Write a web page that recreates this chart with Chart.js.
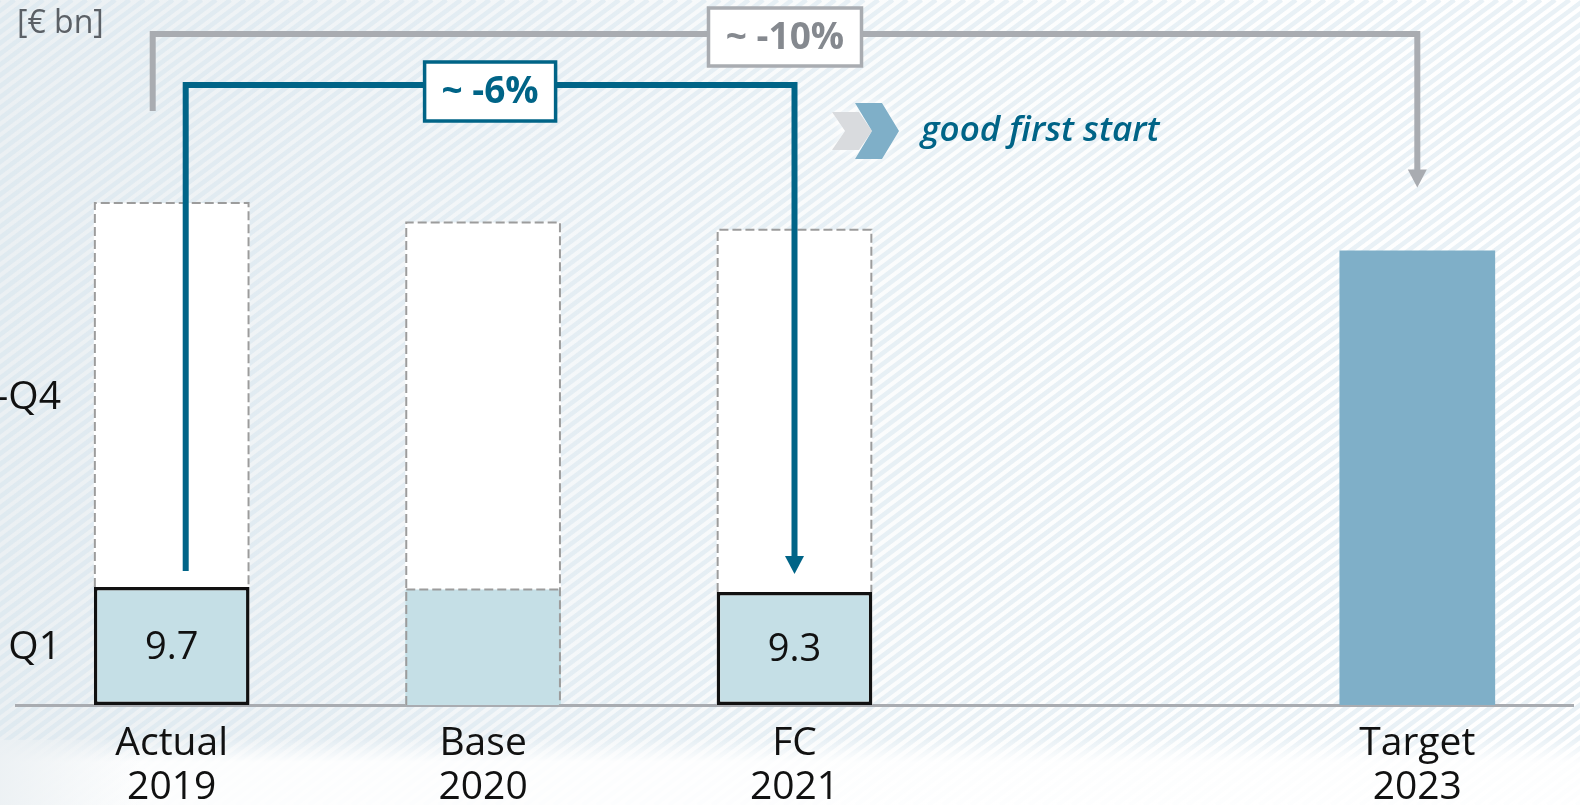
<!DOCTYPE html>
<html><head><meta charset="utf-8">
<script src="https://cdn.jsdelivr.net/npm/chart.js@4.4.1/dist/chart.umd.min.js"></script>
<style>html,body{margin:0;padding:0;background:#fff;overflow:hidden}canvas{display:block}</style>
</head><body>
<canvas id="c" width="1580" height="805"></canvas>
<script>
// ---- data ----
const categoriesTop = ["Actual", "Base", "FC", "", "Target"];
const categoriesBottom = ["2019", "2020", "2021", "", "2023"];
const q1Values = [9.7, 9.5, 9.3, null, null];
const fullYearValues = [41.3, 39.7, 39.1, null, null];
const targetValues = [null, null, null, null, 37.4];
const valueLabels = ["9.7", "", "9.3", "", ""];
const q1Outlined = [true, false, true, false, false];
const yAxisLabels = ["Q1", "Q1-Q4"];
const unitLabel = "[€ bn]";
const changeLabels = ["~ -6%", "~ -10%"];
const noteText = "good first start";

const TEAL = '#006487';
const GREY = '#a9acb1';
const FONT = '"Open Sans", "Noto Sans", sans-serif';

const labels = categoriesTop.map((t, i) => t ? [t, categoriesBottom[i]] : "");

const bgPlugin = {
  id: 'bg',
  beforeDraw(chart) {
    const { ctx, width: W, height: H } = chart;
    ctx.save();
    const g = ctx.createLinearGradient(0, 0, W, 0);
    g.addColorStop(0, '#ebf0f3');
    g.addColorStop(0.35, '#f4f7f9');
    g.addColorStop(0.6, '#fcfdfd');
    g.addColorStop(1, '#ffffff');
    ctx.fillStyle = g;
    ctx.fillRect(0, 0, W, H);
    // diagonal stripes
    ctx.beginPath();
    const k = 0.75;
    for (let c = -H / k; c < W + 20; c += 14.4) {
      ctx.moveTo(c, H);
      ctx.lineTo(c + H / k, 0);
    }
    ctx.strokeStyle = 'rgba(212,227,237,0.5)';
    ctx.lineWidth = 4.5;
    ctx.stroke();
    // white band at the bottom
    const gv = ctx.createLinearGradient(0, 738, 0, 762);
    gv.addColorStop(0, 'rgba(255,255,255,0)');
    gv.addColorStop(1, 'rgba(255,255,255,0.9)');
    ctx.fillStyle = gv;
    ctx.fillRect(0, 738, W, H - 738);
    // keep left edge slightly grey
    const gl = ctx.createLinearGradient(0, 0, 140, 0);
    gl.addColorStop(0, 'rgba(235,240,243,0.9)');
    gl.addColorStop(1, 'rgba(235,240,243,0)');
    ctx.fillStyle = gl;
    ctx.fillRect(0, 740, 140, H - 740);
    ctx.restore();
  }
};

const overlayPlugin = {
  id: 'overlay',
  afterDatasetsDraw(chart) {
    const { ctx } = chart;
    const mQ = chart.getDatasetMeta(0), mF = chart.getDatasetMeta(1);
    ctx.save();
    // dashed outlines of the full-year bars
    ctx.setLineDash([9, 4]);
    ctx.strokeStyle = '#9c9c9c';
    ctx.lineWidth = 2;
    mF.data.forEach((el, i) => {
      if (fullYearValues[i] == null) return;
      const p = el.getProps(['x', 'y', 'base', 'width'], true);
      const l = p.x - p.width / 2 + 1, r = p.x + p.width / 2 - 1;
      const q = mQ.data[i].getProps(['y'], true).y;
      ctx.beginPath();
      if (q1Outlined[i]) {
        ctx.moveTo(l, q); ctx.lineTo(l, p.y); ctx.lineTo(r, p.y); ctx.lineTo(r, q);
      } else {
        ctx.moveTo(l, p.base); ctx.lineTo(l, p.y); ctx.lineTo(r, p.y); ctx.lineTo(r, p.base);
        ctx.moveTo(l, q); ctx.lineTo(r, q);
      }
      ctx.stroke();
    });
    ctx.setLineDash([]);
    // value labels inside Q1 bars
    ctx.fillStyle = '#111';
    ctx.font = '38px ' + FONT;
    ctx.textAlign = 'center';
    ctx.textBaseline = 'middle';
    mQ.data.forEach((el, i) => {
      if (!valueLabels[i]) return;
      const p = el.getProps(['x', 'y', 'base'], true);
      ctx.fillText(valueLabels[i], p.x, (p.y + p.base) / 2 + 2);
    });
    // row labels (left)
    const a = mQ.data[0].getProps(['y', 'base'], true);
    const f = mF.data[0].getProps(['y'], true);
    ctx.textAlign = 'right';
    ctx.font = '39px ' + FONT;
    ctx.fillText(yAxisLabels[0], 61, (a.y + a.base) / 2 + 2);
    ctx.fillText(yAxisLabels[1], 61, (f.y + a.y) / 2 + 3);
    ctx.restore();
  },
  afterDraw(chart) {
    const { ctx } = chart;
    const xs = chart.scales.x, ys = chart.scales.y;
    const xA = xs.getPixelForValue(0), xF = xs.getPixelForValue(2), xT = xs.getPixelForValue(4);
    const yQA = ys.getPixelForValue(q1Values[0]);
    const yQF = ys.getPixelForValue(q1Values[2]);
    const yT = ys.getPixelForValue(targetValues[4]);
    ctx.save();
    ctx.lineJoin = 'miter';
    ctx.lineCap = 'butt';

    function bracket(color, x1, yStart, yTop, x2, tip) {
      ctx.strokeStyle = color;
      ctx.lineWidth = 6;
      ctx.beginPath();
      ctx.moveTo(x1, yStart);
      ctx.lineTo(x1, yTop);
      ctx.lineTo(x2, yTop);
      ctx.lineTo(x2, tip - 14);
      ctx.stroke();
      ctx.fillStyle = color;
      ctx.beginPath();
      ctx.moveTo(x2 - 9.5, tip - 18);
      ctx.lineTo(x2 + 9.5, tip - 18);
      ctx.lineTo(x2, tip);
      ctx.closePath();
      ctx.fill();
    }
    function box(color, textColor, cx, cy, w, h, text) {
      ctx.fillStyle = '#fff';
      ctx.fillRect(cx - w / 2, cy - h / 2, w, h);
      ctx.strokeStyle = color;
      ctx.lineWidth = 3.5;
      ctx.strokeRect(cx - w / 2, cy - h / 2, w, h);
      ctx.fillStyle = textColor;
      ctx.font = 'bold 37px ' + FONT;
      ctx.textAlign = 'center';
      ctx.textBaseline = 'middle';
      ctx.fillText(text, cx, cy + 1);
    }
    // grey bracket (Actual -> Target)
    const gx1 = xA - 19, gy = 34;
    bracket(GREY, gx1, 111, gy, xT, yT - 63);
    // teal bracket (Actual -> FC)
    const tx1 = xA + 14, ty = 85;
    bracket(TEAL, tx1, yQA - 16, ty, xF, yQF - 18);
    box(GREY, '#85898f', (gx1 + xT) / 2, 37, 153, 58, changeLabels[1]);
    box(TEAL, TEAL, (tx1 + xF) / 2, 91.5, 131, 59, changeLabels[0]);

    // chevrons
    function chevron(x0, y0, x1, y1, d, color) {
      const ym = (y0 + y1) / 2;
      ctx.beginPath();
      ctx.moveTo(x0, y0);
      ctx.lineTo(x1 - d, y0);
      ctx.lineTo(x1, ym);
      ctx.lineTo(x1 - d, y1);
      ctx.lineTo(x0, y1);
      ctx.lineTo(x0 + d, ym);
      ctx.closePath();
      ctx.fillStyle = color;
      ctx.fill();
    }
    ctx.save();
    ctx.shadowColor = 'rgba(255,255,255,0.95)';
    ctx.shadowBlur = 10;
    chevron(832, 112, 872, 150, 13, '#fff');
    chevron(855, 103, 899, 159, 17, '#fff');
    ctx.restore();
    chevron(832, 112, 872, 150, 13, '#d9dbde');
    chevron(855, 103, 899, 159, 17, '#7fafc8');
    ctx.fillStyle = TEAL;
    ctx.font = 'italic 600 35px ' + FONT;
    ctx.textAlign = 'left';
    ctx.textBaseline = 'alphabetic';
    ctx.fillText(noteText, 921, 141);

    // unit label
    ctx.fillStyle = '#5b6066';
    ctx.font = '32px ' + FONT;
    ctx.textBaseline = 'middle';
    ctx.fillText(unitLabel, 17, 24);
    ctx.restore();
  }
};

new Chart(document.getElementById('c'), {
  type: 'bar',
  data: {
    labels: labels,
    datasets: [
      {
        label: 'Q1',
        data: q1Values,
        backgroundColor: '#c5dfe6',
        borderColor: '#111',
        borderWidth: q1Outlined.map(o => o ? 3.5 : 0),
        borderSkipped: false,
        order: 0
      },
      {
        label: 'Q1-Q4',
        data: fullYearValues,
        backgroundColor: '#ffffff',
        borderWidth: 0,
        order: 1
      },
      {
        label: 'Target',
        data: targetValues,
        backgroundColor: '#7fafc8',
        borderWidth: 0,
        order: 1
      }
    ]
  },
  options: {
    responsive: false,
    animation: false,
    devicePixelRatio: 1,
    layout: { padding: { left: 16, right: 7, top: 0, bottom: 0 } },
    datasets: { bar: { barPercentage: 1, categoryPercentage: 0.5, grouped: false } },
    plugins: { legend: { display: false }, tooltip: { enabled: false } },
    scales: {
      x: {
        stacked: true,
        grid: { display: false, drawTicks: false },
        border: { display: true, color: GREY, width: 3 },
        ticks: {
          color: '#111',
          font: { family: FONT, size: 39, lineHeight: 1.15 },
          padding: 16,
          maxRotation: 0,
          autoSkip: false
        },
        afterFit(scale) { scale.height = 100; }
      },
      y: {
        display: false,
        min: 0,
        max: 58
      }
    }
  },
  plugins: [bgPlugin, overlayPlugin]
});
</script>
</body></html>
